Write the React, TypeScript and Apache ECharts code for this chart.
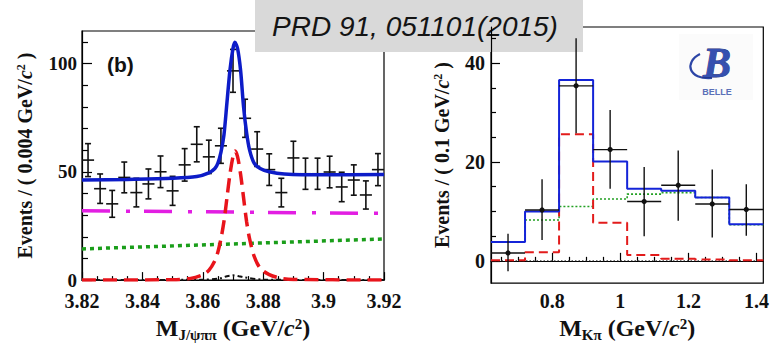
import React, { useEffect, useRef } from "react";
import * as echarts from "echarts";

// ---------- Left panel: M(J/psi pi pi) ----------
const jpsiBinCenters = [3.822, 3.826, 3.83, 3.834, 3.838, 3.842, 3.846, 3.85, 3.854, 3.858, 3.862, 3.866, 3.87, 3.874, 3.878, 3.882, 3.886, 3.89, 3.894, 3.898, 3.902, 3.906, 3.91, 3.914, 3.918];
const jpsiCounts = [55.4, 42.2, 35.2, 47.4, 40.4, 44.4, 50.0, 41.2, 53.2, 62.7, 56.9, 62.0, 96.6, 74.7, 60.5, 51.0, 40.4, 56.4, 49.1, 49.1, 49.9, 43.0, 46.2, 39.3, 51.0];
const jpsiErrors = [7.6, 6.8, 6.2, 7.1, 6.6, 6.9, 7.3, 6.7, 7.5, 8.1, 7.7, 8.1, 9.9, 8.8, 8.0, 7.3, 6.6, 7.7, 7.2, 7.2, 7.3, 6.8, 7.0, 6.5, 7.4];
const jpsiHalfBin = 0.002;

const totalFitX = [3.82, 3.835, 3.85, 3.858, 3.862, 3.864, 3.865, 3.866, 3.867, 3.868, 3.869, 3.87, 3.8706, 3.8715, 3.8725, 3.8735, 3.8745, 3.8755, 3.877, 3.879, 3.882, 3.887, 3.9, 3.92];
const totalFitY = [46.2, 46.5, 47.0, 47.8, 49.5, 51.5, 54, 59, 67, 82, 97, 107, 109.8, 107, 97, 80, 68, 60, 54, 51.5, 50, 49, 48.6, 48.7];

const signalFitX = [3.82, 3.85, 3.856, 3.86, 3.862, 3.864, 3.865, 3.866, 3.867, 3.868, 3.869, 3.87, 3.8707, 3.8715, 3.8725, 3.8735, 3.8745, 3.8755, 3.877, 3.879, 3.882, 3.886, 3.89, 3.92];
const signalFitY = [0, 0.2, 0.8, 2.5, 4.5, 9, 13, 19, 27, 38, 49, 57, 59.6, 57, 49, 38, 27, 19, 11, 5.5, 2.5, 0.8, 0.3, 0];

const peakingBkgX = [3.82, 3.86, 3.866, 3.868, 3.87, 3.872, 3.874, 3.88, 3.92];
const peakingBkgY = [0, 0.2, 0.9, 1.8, 2.2, 1.8, 1.2, 0.2, 0];

const magentaX = [3.82, 3.92];
const magentaY = [32.0, 30.8];
const greenX = [3.82, 3.92];
const greenY = [14.4, 19.0];

const leftXMajor = [3.82, 3.84, 3.86, 3.88, 3.9, 3.92];
const leftXMinor = [3.825, 3.83, 3.835, 3.845, 3.85, 3.855, 3.865, 3.87, 3.875, 3.885, 3.89, 3.895, 3.905, 3.91, 3.915];
const leftYMajor = [0, 50, 100];
const leftYMinor = [10, 20, 30, 40, 60, 70, 80, 90, 110];

// ---------- Right panel: M(K pi) ----------
const kpiEdges = [0.62, 0.72, 0.82, 0.92, 1.02, 1.12, 1.22, 1.32, 1.42];
const kpiTotal = [3.8, 10.0, 36.6, 20.1, 14.6, 14.2, 12.8, 7.4];
const kpiSignal = [0.1, 1.75, 25.6, 7.7, 1.2, 0.45, 0.25, 0.1];
const kpiBackground = [3.8, 8.25, 11.0, 12.5, 13.5, 13.8, 12.8, 7.3];
const kpiCenters = [0.67, 0.77, 0.87, 0.97, 1.07, 1.17, 1.27, 1.37];
const kpiCounts = [1.6, 10.3, 35.4, 22.5, 12.0, 15.3, 11.5, 10.4];
const kpiErrLow = [3.7, 6.1, 9.6, 7.9, 7.0, 7.2, 6.8, 5.3];
const kpiErrHigh = [3.9, 6.2, 9.6, 8.0, 7.0, 7.0, 7.0, 5.1];
const kpiHalfBin = 0.05;

const rightXMajor = [0.8, 1.0, 1.2, 1.4];
const rightXMinor = [0.65, 0.7, 0.75, 0.85, 0.9, 0.95, 1.05, 1.1, 1.15, 1.25, 1.3, 1.35];
const rightYMajor = [0, 20, 40];
const rightYMinor = [5, 10, 15, 25, 30, 35, 45];

const SERIF = "Liberation Serif";

function richName(size: number) {
  return {
    t: { fontFamily: SERIF, fontWeight: "bold", fontSize: size, color: "#111", verticalAlign: "top", lineHeight: size + 2 },
    i: { fontFamily: SERIF, fontWeight: "bold", fontStyle: "italic", fontSize: size, color: "#111", verticalAlign: "top", lineHeight: size + 2 },
    sup: { fontFamily: SERIF, fontWeight: "bold", fontSize: Math.round(size * 0.62), color: "#111", verticalAlign: "top", lineHeight: Math.round(size * 0.62) },
    sub: { fontFamily: SERIF, fontWeight: "bold", fontSize: Math.round(size * 0.62), color: "#111", verticalAlign: "top", lineHeight: Math.round(size * 0.62), padding: [Math.round(size * 0.45), 0, 0, 0] },
  };
}

const labelStyle = (size: number) => ({
  fontFamily: SERIF,
  fontWeight: "bold" as const,
  fontSize: size,
  color: "#111",
});

const fmt = (v: number) => String(Number(v.toFixed(3)));

function makeOption() {
  const lineOf = (xs: number[], ys: number[]) => xs.map((x, i) => [x, ys[i]]);
  const stepOf = (vals: number[]) => kpiEdges.map((e, i) => [e, vals[Math.min(i, vals.length - 1)]]);

  const axisLineStyle = { show: true, lineStyle: { color: "#000", width: 1.2 } };

  return {
    animation: false,
    backgroundColor: "#fff",
    grid: [
      { left: 82, top: 31, width: 302, height: 262, show: true, borderColor: "#000", borderWidth: 1.2, backgroundColor: "transparent" },
      { left: 491, top: 27, width: 277, height: 265, show: true, borderColor: "#000", borderWidth: 1.2, backgroundColor: "transparent" },
    ],
    xAxis: [
      {
        type: "value", gridIndex: 0, min: 3.82, max: 3.92, position: "bottom",
        axisLine: axisLineStyle, splitLine: { show: false },
        axisTick: { show: true, inside: true, length: 8, customValues: leftXMajor, lineStyle: { color: "#000", width: 1.2 } },
        axisLabel: { ...labelStyle(20), margin: 11, customValues: leftXMajor, formatter: fmt },
        name: "{t|M}{sub|J/ψππ}{t| (GeV/}{i|c}{sup|2}{t|)}",
        nameLocation: "middle", nameGap: 31,
        nameTextStyle: { rich: richName(24) },
      },
      {
        type: "value", gridIndex: 0, min: 3.82, max: 3.92, position: "bottom",
        axisLine: { show: false }, splitLine: { show: false },
        axisTick: { show: true, inside: true, length: 4, customValues: leftXMinor, lineStyle: { color: "#000", width: 1.2 } },
        axisLabel: { show: false },
      },
      {
        type: "value", gridIndex: 1, min: 0.62, max: 1.42, position: "bottom",
        axisLine: axisLineStyle, splitLine: { show: false },
        axisTick: { show: true, inside: true, length: 8, customValues: rightXMajor, lineStyle: { color: "#000", width: 1.2 } },
        axisLabel: { ...labelStyle(20), margin: 8, customValues: rightXMajor, formatter: fmt },
        name: "{t|M}{sub|Kπ}{t| (GeV/}{i|c}{sup|2}{t|)}",
        nameLocation: "middle", nameGap: 31,
        nameTextStyle: { rich: richName(24) },
      },
      {
        type: "value", gridIndex: 1, min: 0.62, max: 1.42, position: "bottom",
        axisLine: { show: false }, splitLine: { show: false },
        axisTick: { show: true, inside: true, length: 4, customValues: rightXMinor, lineStyle: { color: "#000", width: 1.2 } },
        axisLabel: { show: false },
      },
    ],
    yAxis: [
      {
        type: "value", gridIndex: 0, min: 0, max: 115, position: "left",
        axisLine: axisLineStyle, splitLine: { show: false },
        axisTick: { show: true, inside: true, length: 10, customValues: leftYMajor, lineStyle: { color: "#000", width: 1.2 } },
        axisLabel: { ...labelStyle(19), margin: 5, customValues: leftYMajor },
        name: "{t|Events / ( 0.004 GeV/}{i|c}{sup|2}{t| )}",
        nameLocation: "middle", nameGap: 45,
        nameTextStyle: { rich: richName(20) },
      },
      {
        type: "value", gridIndex: 0, min: 0, max: 115, position: "left",
        axisLine: { show: false }, splitLine: { show: false },
        axisTick: { show: true, inside: true, length: 6, customValues: leftYMinor, lineStyle: { color: "#000", width: 1.2 } },
        axisLabel: { show: false },
      },
      {
        type: "value", gridIndex: 1, min: -4.5, max: 47.3, position: "left",
        axisLine: axisLineStyle, splitLine: { show: false },
        axisTick: { show: true, inside: true, length: 9, customValues: rightYMajor, lineStyle: { color: "#000", width: 1.2 } },
        axisLabel: { ...labelStyle(20), margin: 6, customValues: rightYMajor },
        name: "{t|Events / ( 0.1 GeV/}{i|c}{sup|2}{t| )}",
        nameLocation: "middle", nameGap: 37,
        nameTextStyle: { rich: richName(20) },
      },
      {
        type: "value", gridIndex: 1, min: -4.5, max: 47.3, position: "left",
        axisLine: { show: false }, splitLine: { show: false },
        axisTick: { show: true, inside: true, length: 5, customValues: rightYMinor, lineStyle: { color: "#000", width: 1.2 } },
        axisLabel: { show: false },
      },
    ],
    series: [
      // Left panel
      {
        type: "line", xAxisIndex: 0, yAxisIndex: 0, data: lineOf(greenX, greenY), symbol: "none",
        lineStyle: { color: "#1a9e1a", width: 3.5, type: [4, 4] }, z: 2,
      },
      {
        type: "line", xAxisIndex: 0, yAxisIndex: 0, data: lineOf(magentaX, magentaY), symbol: "none",
        lineStyle: { color: "#e21ee2", width: 3.5, type: [28, 16, 4, 14] }, z: 2,
      },
      {
        type: "line", xAxisIndex: 0, yAxisIndex: 0, data: lineOf(peakingBkgX, peakingBkgY), symbol: "none", smooth: 0.3,
        lineStyle: { color: "#111", width: 2, type: [5, 3, 2, 3] }, z: 2,
      },
      {
        type: "line", xAxisIndex: 0, yAxisIndex: 0, data: lineOf(signalFitX, signalFitY), symbol: "none", smooth: 0.3,
        lineStyle: { color: "#e8141b", width: 3.5, type: [14, 7] }, z: 3,
      },
      {
        type: "custom", xAxisIndex: 0, yAxisIndex: 0,
        data: jpsiBinCenters.map((x, i) => [x, jpsiCounts[i], jpsiErrors[i]]),
        encode: { x: 0, y: 1 },
        renderItem: (_p: any, api: any) => {
          const x = api.value(0), y = api.value(1), e = api.value(2);
          const top = api.coord([x, y + e]);
          const bot = api.coord([x, y - e]);
          const l = api.coord([x - jpsiHalfBin, y]);
          const r = api.coord([x + jpsiHalfBin, y]);
          const cap = 3;
          const style = { stroke: "#111", lineWidth: 1.6 };
          return {
            type: "group",
            children: [
              { type: "line", shape: { x1: top[0], y1: top[1], x2: bot[0], y2: bot[1] }, style },
              { type: "line", shape: { x1: l[0], y1: l[1], x2: r[0], y2: r[1] }, style },
              { type: "line", shape: { x1: top[0] - cap, y1: top[1], x2: top[0] + cap, y2: top[1] }, style },
              { type: "line", shape: { x1: bot[0] - cap, y1: bot[1], x2: bot[0] + cap, y2: bot[1] }, style },
            ],
          };
        },
        z: 4,
      },
      {
        type: "line", xAxisIndex: 0, yAxisIndex: 0, data: lineOf(totalFitX, totalFitY), symbol: "none", smooth: 0.3,
        lineStyle: { color: "#0d1cc8", width: 3.5 }, z: 5,
      },
      // Right panel
      {
        type: "line", xAxisIndex: 2, yAxisIndex: 2, data: [[0.62, 0], [1.42, 0]], symbol: "none",
        lineStyle: { color: "#222", width: 1, type: [1.5, 2] }, z: 2,
      },
      {
        type: "line", xAxisIndex: 2, yAxisIndex: 2, data: stepOf(kpiBackground), step: "end", symbol: "none",
        lineStyle: { color: "#22a022", width: 1.6, type: [2, 2] }, z: 3,
      },
      {
        type: "line", xAxisIndex: 2, yAxisIndex: 2, data: stepOf(kpiSignal), step: "end", symbol: "none",
        lineStyle: { color: "#e21b1b", width: 2, type: [9, 5] }, z: 3,
      },
      {
        type: "line", xAxisIndex: 2, yAxisIndex: 2, data: stepOf(kpiTotal), step: "end", symbol: "none",
        lineStyle: { color: "#1424d8", width: 2 }, z: 4,
      },
      {
        type: "custom", xAxisIndex: 2, yAxisIndex: 2,
        data: kpiCenters.map((x, i) => [x, kpiCounts[i], kpiErrLow[i], kpiErrHigh[i]]),
        encode: { x: 0, y: 1 },
        renderItem: (_p: any, api: any) => {
          const x = api.value(0), y = api.value(1), lo = api.value(2), hi = api.value(3);
          const c = api.coord([x, y]);
          const top = api.coord([x, y + hi]);
          const bot = api.coord([x, y - lo]);
          const l = api.coord([x - kpiHalfBin, y]);
          const r = api.coord([x + kpiHalfBin, y]);
          const style = { stroke: "#111", lineWidth: 1.4 };
          return {
            type: "group",
            children: [
              { type: "line", shape: { x1: top[0], y1: top[1], x2: bot[0], y2: bot[1] }, style },
              { type: "line", shape: { x1: l[0], y1: l[1], x2: r[0], y2: r[1] }, style },
              { type: "circle", shape: { cx: c[0], cy: c[1], r: 2.6 }, style: { fill: "#111" } },
            ],
          };
        },
        z: 5,
      },
    ],
    graphic: [
      {
        type: "text", left: 107, top: 54, z: 50,
        style: { text: "(b)", fontFamily: "Liberation Sans", fontWeight: "bold", fontSize: 21, fill: "#111" },
      },
      // Belle logo
      {
        type: "group", z: 50,
        children: [
          { type: "rect", shape: { x: 679, y: 34, width: 74, height: 66 }, style: { fill: "#fbfbfb" } },
          {
            type: "bezierCurve",
            shape: { x1: 700, y1: 54, cpx1: 684, cpy1: 62, cpx2: 688, cpy2: 80, x2: 712, y2: 78 },
            style: { stroke: "#2c45a6", lineWidth: 2.2, fill: "none" },
          },
          {
            type: "text", x: 717, y: 63, z: 51,
            style: {
              text: "B", fontFamily: SERIF, fontStyle: "italic", fontWeight: "bold", fontSize: 42,
              fill: "#3550b0", stroke: "#1c2c78", lineWidth: 0.8, align: "center", verticalAlign: "middle",
            },
          },
          {
            type: "text", x: 717, y: 92,
            style: { text: "BELLE", fontFamily: "Liberation Sans", fontWeight: "bold", fontSize: 9, fill: "#5a70b8", align: "center", verticalAlign: "middle" },
          },
        ],
      },
      // Reference banner
      {
        type: "group", z: 100,
        children: [
          { type: "rect", shape: { x: 255, y: 0, width: 328, height: 52 }, style: { fill: "#d9d9d9" } },
          {
            type: "text", x: 415, y: 26,
            style: {
              text: "PRD 91, 051101(2015)", fontFamily: "Liberation Sans", fontStyle: "italic", fontSize: 28,
              fill: "#141414", align: "center", verticalAlign: "middle",
            },
          },
        ],
      },
    ],
  };
}

export default function App() {
  const ref = useRef<HTMLDivElement>(null);
  useEffect(() => {
    if (!ref.current) return;
    const chart = echarts.init(ref.current, undefined, { renderer: "svg" });
    chart.setOption(makeOption() as any);
    return () => chart.dispose();
  }, []);
  return (
    <div
      ref={ref}
      style={{ position: "fixed", left: 0, top: 0, width: 772, height: 347, background: "#fff" }}
    />
  );
}
